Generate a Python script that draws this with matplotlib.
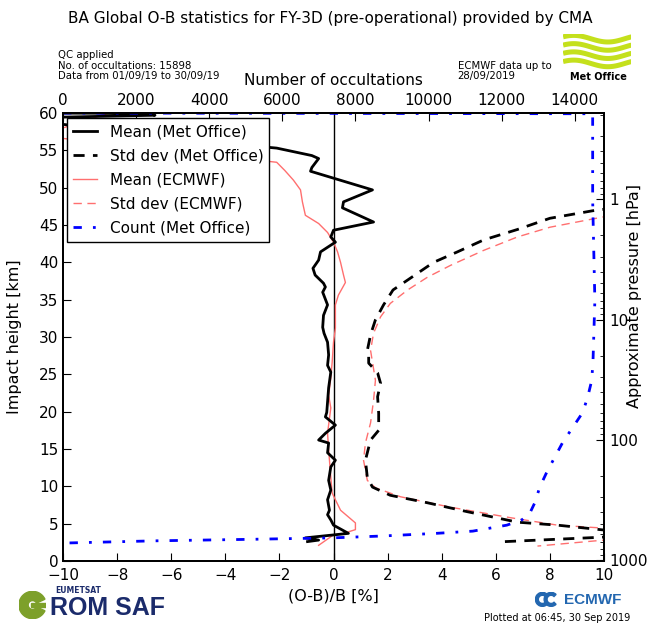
import numpy as np
import matplotlib
matplotlib.use('Agg')
from matplotlib import pyplot as plt
from matplotlib import ticker
from matplotlib.patches import Wedge, Rectangle

# Met Office mean (O-B)/B [%] vs impact height [km]
mo_mean_z = [60.0, 59.95, 59.7, 59.3, 55.6, 55.3, 54.3, 53.9, 52.7, 52.2, 49.7, 48.1, 47.3, 45.4,
             44.3, 43.4, 42.7, 42.3, 41.4, 40.3, 39.2, 38.3, 37.2, 36.7, 36.0, 34.3, 32.9, 31.3,
             30.5, 29.3, 27.6, 26.2, 25.3, 23.2, 21.3, 19.9, 19.3, 18.2, 17.1, 16.2, 15.8, 14.5,
             13.5, 12.6, 10.8, 9.5, 8.2, 6.8, 6.2, 5.5, 4.8, 3.7, 3.1, 2.8, 2.6]
mo_mean = [-12.0, -6.8, -6.6, -12.0, -3.0, -2.1, -0.8, -0.55, -0.8, -0.85, 1.44, 0.37, 0.33, 1.48,
           0.0, -0.1, 0.07, -0.1, -0.48, -0.55, -0.76, -0.68, -0.37, -0.3, -0.4, -0.22, -0.37, -0.4,
           -0.35, -0.22, -0.18, -0.22, -0.1, -0.18, -0.22, -0.25, -0.3, 0.07, -0.3, -0.55, -0.18, -0.22,
           0.07, -0.1, -0.18, -0.1, -0.22, -0.15, -0.22, -0.1, 0.0, 0.55, -1.04, -0.55, -0.96]

# ECMWF mean
ec_mean_z = [60.0, 58.0, 57.0, 53.4, 52.3, 51.0, 49.7, 48.1, 46.3, 45.2, 44.0, 42.7, 41.4, 40.0,
             38.3, 37.3, 35.6, 34.3, 31.2, 29.3, 26.6, 24.5, 22.2, 20.5, 17.1, 14.9, 11.2, 9.1,
             8.2, 6.8, 5.1, 4.2, 3.7, 3.5, 2.1]
ec_mean = [-8.3, -10.0, -11.0, -2.1, -1.8, -1.48, -1.22, -1.15, -1.04, -0.55, -0.22, 0.0, 0.15, 0.26,
           0.37, 0.44, 0.18, 0.07, 0.07, 0.0, -0.05, -0.1, -0.18, -0.1, -0.22, -0.18, -0.1, -0.05,
           0.07, 0.26, 0.81, 0.81, 0.37, 0.0, -0.55]

# Met Office std dev
mo_std_z = [48.5, 47.1, 46.9, 45.9, 44.4, 43.0, 41.4, 40.0, 37.9, 36.3, 34.3, 32.3, 30.3, 28.2,
            27.8, 26.5, 25.2, 23.8, 22.0, 19.8, 17.5, 16.2, 13.5, 11.2, 9.9, 8.8, 7.8, 6.6,
            5.2, 4.8, 4.15, 3.7, 3.2, 2.55]
mo_std = [13.0, 10.0, 9.57, 8.0, 6.8, 5.55, 4.58, 3.7, 2.85, 2.2, 1.85, 1.55, 1.37, 1.25,
          1.3, 1.3, 1.63, 1.74, 1.63, 1.67, 1.67, 1.37, 1.18, 1.25, 1.44, 2.1, 3.47, 4.95,
          6.8, 8.28, 10.0, 13.0, 10.0, 6.06]

# ECMWF std dev
ec_std_z = [47.5, 46.1, 44.7, 43.4, 41.6, 39.6, 38.0, 36.3, 34.5, 32.7, 30.5, 28.2, 24.2, 21.5,
            18.5, 15.8, 13.5, 10.8, 9.8, 8.6, 7.2, 5.8, 4.8, 4.4, 3.5, 2.8, 2.0]
ec_std = [13.0, 10.0, 8.0, 6.8, 5.55, 4.33, 3.47, 2.74, 2.1, 1.74, 1.48, 1.37, 1.55, 1.48,
          1.37, 1.18, 1.11, 1.25, 1.55, 2.48, 4.33, 6.54, 8.28, 10.0, 14.0, 10.0, 7.54]

# Met Office number of occultations
count_z = [60.0, 59.9, 48.3, 34.9, 26.9, 24.2, 22.0, 19.9, 17.9, 15.9, 13.9, 11.9, 9.9, 7.8,
           6.4, 5.5, 4.8, 4.4, 4.0, 3.7, 3.35, 3.1, 2.9, 2.7, 2.4]
count = [0, 14490, 14490, 14550, 14500, 14465, 14356, 14219, 13946, 13672, 13453, 13235, 13043, 12907,
         12770, 12551, 12141, 11676, 11211, 10200, 8750, 7383, 5086, 2500, 0]

fig = plt.figure(figsize=(6.51, 6.25), dpi=100)
ax = fig.add_axes([0.0968, 0.1024, 0.831, 0.7168])
ax_n = ax.twiny()
ax_p = ax.twinx()

l1, = ax.plot(mo_mean, mo_mean_z, color='black', lw=2, zorder=4, label='Mean (Met Office)')
l2, = ax.plot(mo_std, mo_std_z, color='black', lw=2, ls='--', dashes=(4, 3), zorder=4,
              label='Std dev (Met Office)')
l3, = ax.plot(ec_mean, ec_mean_z, color='#ff6f6f', lw=1, zorder=3, label='Mean (ECMWF)')
l4, = ax.plot(ec_std, ec_std_z, color='#ff6f6f', lw=1, ls='--', dashes=(6, 4), zorder=3,
              label='Std dev (ECMWF)')
ax.axvline(0, color='black', lw=1, zorder=2)
l5, = ax_n.plot(count, count_z, color='blue', lw=2, ls='-.', dashes=(3, 4, 1, 4),
                label='Count (Met Office)')

ax.set_xlim(-10, 10)
ax.set_ylim(0, 60)
ax.set_xticks(np.arange(-10, 11, 2))
ax.set_yticks(np.arange(0, 61, 5))
ax.set_xlabel('(O-B)/B [%]', fontsize=11.5, labelpad=4)
ax.set_ylabel('Impact height [km]', fontsize=11.5, labelpad=12)

ax_n.set_xlim(0, 14800)
ax_n.set_xticks(np.arange(0, 14001, 2000))
ax_n.set_xlabel('Number of occultations', fontsize=11, labelpad=6)

# approximate pressure from impact height, scale height ~7 km
ax_p.set_yscale('log')
ax_p.set_ylim(1013.25, 1013.25 * np.exp(-60 / 7.0))
ax_p.yaxis.set_major_locator(ticker.FixedLocator([1, 10, 100, 1000]))
ax_p.yaxis.set_major_formatter(ticker.FuncFormatter(lambda v, p: '%g' % v))
ax_p.yaxis.set_minor_locator(ticker.LogLocator(base=10, subs=np.arange(2, 10)))
ax_p.yaxis.set_minor_formatter(ticker.NullFormatter())
fig.text(0.975, 0.527, 'Approximate pressure [hPa]', rotation=90, ha='center', va='center',
         fontsize=11.5)

for a in (ax, ax_n, ax_p):
    a.tick_params(which='major', direction='in', length=6, labelsize=11)
    a.tick_params(which='minor', direction='in', length=3)
    for s in a.spines.values():
        s.set_linewidth(1.2)
ax.tick_params(axis='x', pad=5)

leg = ax_p.legend(handles=[l1, l2, l3, l4, l5], loc='upper left', bbox_to_anchor=(0.007, 0.989),
                  borderaxespad=0, fontsize=11, handlelength=1.6, fancybox=False, framealpha=1,
                  edgecolor='black', borderpad=0.4, labelspacing=0.6)
leg.get_frame().set_linewidth(1)

fig.text(0.507, 0.971, 'BA Global O-B statistics for FY-3D (pre-operational) provided by CMA',
         ha='center', va='center', fontsize=11)
fig.text(0.089, 0.870, 'QC applied\nNo. of occultations: 15898\nData from 01/09/19 to 30/09/19',
         ha='left', va='bottom', fontsize=7.3, linespacing=1.05)
fig.text(0.703, 0.870, 'ECMWF data up to\n28/09/2019', ha='left', va='bottom', fontsize=7.3,
         linespacing=1.05)
fig.text(0.968, 0.003, 'Plotted at 06:45, 30 Sep 2019', ha='right', va='bottom', fontsize=7)

# Met Office logo
lg = fig.add_axes([0.865, 0.888, 0.105, 0.058])
lg.axis('off')
xs = np.linspace(0, 1, 50)
for k in range(4):
    lg.plot(xs, k + 0.4 * np.sin(2 * np.pi * xs + 0.6), color='#c4e01c', lw=3.6,
            solid_capstyle='butt')
lg.set_xlim(0, 1)
lg.set_ylim(-0.8, 3.6)
fig.text(0.92, 0.869, 'Met Office', ha='center', va='bottom', fontsize=7, fontweight='bold')

# ROM SAF logo
rl = fig.add_axes([0.029, 0.006, 0.042, 0.052])
rl.axis('off')
rl.set_xlim(0, 1)
rl.set_ylim(0, 1)
rl.set_aspect('equal')
rl.add_patch(Wedge((0.5, 0.5), 0.5, 25, 335, width=0.34, color='#7da02a'))
rl.add_patch(Rectangle((0.45, 0.43), 0.55, 0.14, color='#7da02a'))
fig.text(0.085, 0.048, 'EUMETSAT', ha='left', va='bottom', fontsize=5.5, fontweight='bold',
         color='#1b2b6b')
fig.text(0.077, 0.008, 'ROM SAF', ha='left', va='bottom', fontsize=18, fontweight='bold',
         family='Liberation Sans', color='#1b2b6b')

# ECMWF logo
el = fig.add_axes([0.822, 0.026, 0.038, 0.03])
el.axis('off')
el.set_xlim(0, 1.7)
el.set_ylim(0, 1)
el.set_aspect('equal')
el.add_patch(Wedge((0.5, 0.5), 0.48, 45, 315, width=0.2, color='#2367b0'))
el.add_patch(Wedge((1.1, 0.5), 0.48, 45, 315, width=0.2, color='#2367b0'))
fig.text(0.955, 0.028, 'ECMWF', ha='right', va='bottom', fontsize=11, fontweight='bold',
         family='Liberation Sans', color='#2367b0')

fig.savefig('out.png', dpi=100)
